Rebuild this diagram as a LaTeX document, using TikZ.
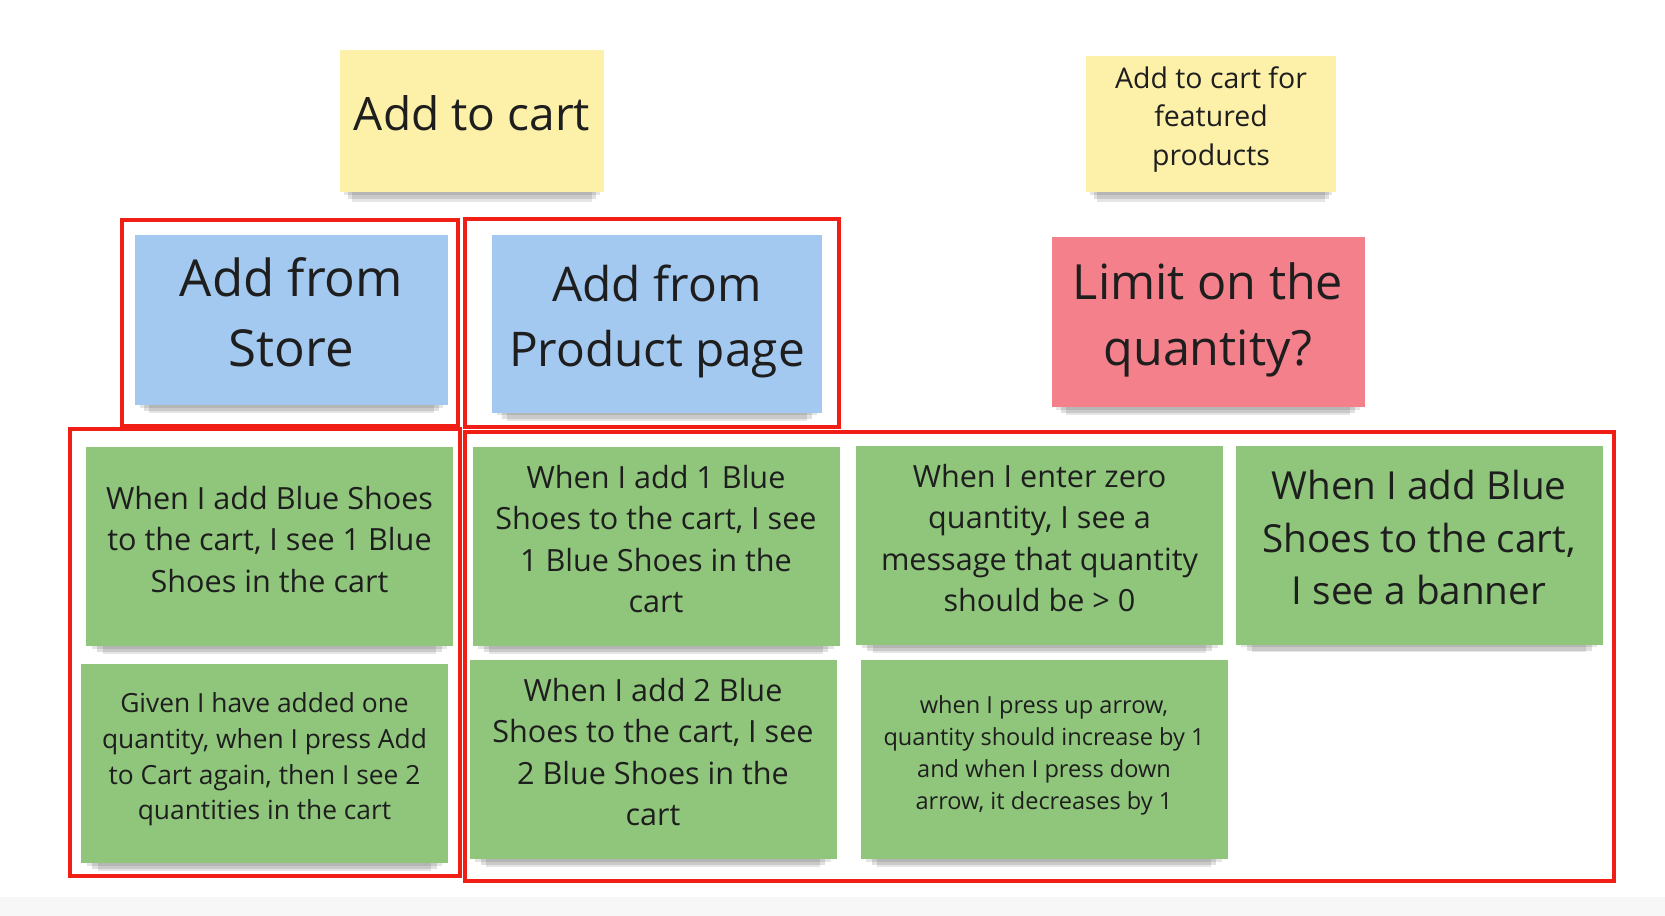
\documentclass[tikz,border=0pt]{standalone}
\usepackage{fontspec}
\setmainfont{Open Sans}
\usepackage{tikz}
\usepackage{xcolor}
\usetikzlibrary{shadows}

\definecolor{noteyellow}{HTML}{FDF1A9}
\definecolor{noteblue}{HTML}{A4C9F1}
\definecolor{notepink}{HTML}{F4808B}
\definecolor{notegreen}{HTML}{8FC67B}
\definecolor{frame}{RGB}{240,30,20}
\definecolor{ink}{HTML}{1E1E1E}

\tikzset{
  note/.style={rectangle, inner sep=0pt, align=center, text=ink,
    execute at end node={\rule[-4.5pt]{0pt}{4.5pt}},
    general shadow={shadow yshift=-1.5pt, shadow scale=.97, opacity=.10, fill=black},
    general shadow={shadow yshift=-3.5pt, shadow scale=.94, opacity=.12, fill=black},
    general shadow={shadow yshift=-5pt, shadow scale=.91, opacity=.10, fill=black}},
  yellownote/.style={note, fill=noteyellow},
  bluenote/.style={note, fill=noteblue, font=\fontsize{14.5}{20}\selectfont},
  pinknote/.style={note, fill=notepink, font=\fontsize{13.8}{18.8}\selectfont},
  greennote/.style={note, fill=notegreen, minimum width=3.67cm, minimum height=1.99cm,
    font=\fontsize{8.7}{11.8}\selectfont},
  groupframe/.style={draw=frame, line width=1.3pt}
}

\begin{document}
\begin{tikzpicture}[x=1cm, y=-1cm]
  \useasboundingbox (0, 0) rectangle (16.65, 9.16);
  \fill[black!3] (0, 8.97) rectangle (16.65, 9.16);

  % top row
  \node[yellownote, minimum width=2.64cm, minimum height=1.42cm,
    font=\fontsize{13.1}{17.8}\selectfont] (addcart) at (4.72, 1.21) {Add to cart};
  \node[yellownote, minimum width=2.50cm, minimum height=1.36cm,
    font=\fontsize{8.1}{11}\selectfont] (featured) at (12.11, 1.24)
    {Add to cart for\\featured\\products};

  % features
  \node[bluenote, minimum width=3.13cm, minimum height=1.70cm] (fromstore) at (2.915, 3.20)
    {Add from\\Store};
  \node[bluenote, minimum width=3.30cm, minimum height=1.78cm,
    font=\fontsize{13.6}{18.5}\selectfont] (fromproduct) at (6.57, 3.24)
    {Add from\\Product page};
  \node[pinknote, minimum width=3.13cm, minimum height=1.70cm] (limitqty) at (12.08, 3.22)
    {Limit on the\\quantity?};

  % examples
  \node[greennote] (storeone) at (2.695, 5.47)
    {When I add Blue Shoes\\to the cart, I see 1 Blue\\Shoes in the cart};
  \node[greennote, font=\fontsize{7.5}{10.2}\selectfont] (storetwo) at (2.645, 7.64)
    {Given I have added one\\quantity, when I press Add\\to Cart again, then I see 2\\quantities in the cart};
  \node[greennote] (pageone) at (6.56, 5.47)
    {When I add 1 Blue\\Shoes to the cart, I see\\1 Blue Shoes in the\\cart};
  \node[greennote] (pagetwo) at (6.53, 7.60)
    {When I add 2 Blue\\Shoes to the cart, I see\\2 Blue Shoes in the\\cart};
  \node[greennote] (qtyzero) at (10.395, 5.46)
    {When I enter zero\\quantity, I see a\\message that quantity\\should be > 0};
  \node[greennote, font=\fontsize{6.7}{9.1}\selectfont] (qtyarrow) at (10.44, 7.60)
    {when I press up arrow,\\quantity should increase by 1\\and when I press down\\arrow, it decreases by 1};
  \node[greennote, font=\fontsize{11}{14.9}\selectfont] (banner) at (14.19, 5.455)
    {When I add Blue\\Shoes to the cart,\\I see a banner};

  % red frames
  \draw[groupframe] (1.22, 2.20) rectangle (4.58, 4.26);
  \draw[groupframe] (4.65, 2.19) rectangle (8.39, 4.27);
  \draw[groupframe] (0.70, 4.29) rectangle (4.60, 8.76);
  \draw[groupframe] (4.65, 4.32) rectangle (16.14, 8.81);
\end{tikzpicture}
\end{document}
